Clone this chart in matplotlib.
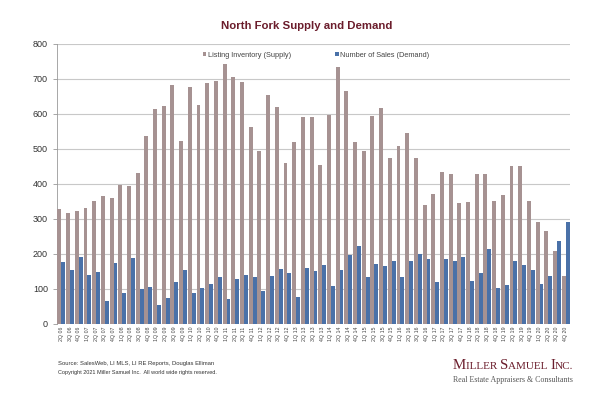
import numpy as np
import matplotlib
matplotlib.use('Agg')
import matplotlib.pyplot as plt

plt.rcParams['font.family'] = ['Liberation Sans', 'DejaVu Sans']

# quarters 2Q 06 .. 4Q 20
quarters = ['2Q 06', '3Q 06', '4Q 06']
for yr in range(7, 21):
    for q in range(1, 5):
        quarters.append('%dQ %02d' % (q, yr))

supply = [329, 317, 324,
          331, 350, 366, 360,
          397, 394, 430, 537,
          615, 622, 683, 524,
          677, 625, 688, 695,
          742, 705, 691, 562,
          494, 653, 621, 461,
          520, 592, 592, 454,
          598, 733, 666, 521,
          494, 593, 617, 473,
          507, 545, 473, 340,
          371, 434, 429, 345,
          349, 427, 427, 350,
          368, 452, 451, 350,
          291, 265, 208, 136]

demand = [176, 153, 190,
          140, 148, 66, 174,
          88, 188, 99, 106,
          55, 75, 120, 154,
          89, 104, 115, 135,
          70, 127, 139, 135,
          94, 137, 156, 146,
          78, 159, 151, 167,
          109, 154, 198, 224,
          134, 171, 166, 179,
          134, 179, 199, 185,
          120, 186, 179, 191,
          122, 145, 213, 104,
          110, 181, 167, 153,
          114, 137, 237, 291]

supply_col = '#A69292'
demand_col = '#4A71A8'
maroon = '#6B1D2C'

fig = plt.figure(figsize=(6, 3.96), dpi=100)
ax = fig.add_axes([0.095, 0.182, 0.855, 0.707])

x = np.arange(len(quarters))
w = 0.45
ax.bar(x - w/2, supply, w, color=supply_col, label='Listing Inventory (Supply)', zorder=3)
ax.bar(x + w/2, demand, w, color=demand_col, label='Number of Sales (Demand)', zorder=3)

ax.set_xlim(-0.5, len(quarters) - 0.5)
ax.set_ylim(0, 800)
ax.set_yticks(range(0, 801, 100))
ax.yaxis.grid(True, color='#C8C8C8', linewidth=0.8, zorder=0)
ax.tick_params(axis='y', labelsize=6.5, labelcolor='#333333', length=3, color='#999999', width=0.6)
ax.set_xticks(x)
ax.set_xticklabels(quarters, rotation=90, fontsize=3.8, color='#444444')
ax.tick_params(axis='x', length=0, pad=2)
for s in ['top', 'right', 'bottom']:
    ax.spines[s].set_visible(False)
ax.spines['left'].set_color('#999999')
ax.spines['left'].set_linewidth(0.6)

leg = ax.legend(loc='upper center', bbox_to_anchor=(0.505, 0.995), ncol=2, frameon=False,
                fontsize=5.3, handlelength=0.5, handleheight=0.5, handletextpad=0.2,
                columnspacing=6)
for t in leg.get_texts():
    t.set_color('#444444')

fig.text(307.0 / 600, 0.935, 'North Fork Supply and Demand', ha='center', va='center',
         fontsize=8.2, fontweight='bold', color=maroon)

fig.text(0.097, 0.083, 'Source: SalesWeb, LI MLS, LI RE Reports, Douglas Elliman',
         fontsize=4.2, color='#333333', va='center')
fig.text(0.096, 0.060, 'Copyright 2021 Miller Samuel Inc.  All world wide rights reserved.',
         fontsize=3.95, color='#333333', va='center')

# logo text with fake small caps, scaled to fit about 120 px
fig.canvas.draw()
renderer = fig.canvas.get_renderer()
pieces = [('M', 12), ('ILLER ', 9), ('S', 12), ('AMUEL ', 9), ('I', 12), ('NC.', 9)]
total = 0
tmp = []
for txt, size in pieces:
    t = fig.text(0, 0, txt, fontsize=size, family='Liberation Serif')
    total += t.get_window_extent(renderer).width
    tmp.append(t)
for t in tmp:
    t.remove()
scale = 121.0 / total
xpos = 453.0 / 600
for txt, size in pieces:
    t = fig.text(xpos, 0.068, txt, fontsize=size * scale, family='Liberation Serif',
                 color=maroon, va='baseline')
    xpos += t.get_window_extent(renderer).width / fig.bbox.width

sub = fig.text(453.0 / 600, 0.036, 'Real Estate Appraisers & Consultants', fontsize=6,
               family='Liberation Serif', color='#555555', va='baseline')
sw = sub.get_window_extent(renderer).width
sub.set_fontsize(6 * 120.0 / sw)

fig.savefig('out.png', dpi=100)
